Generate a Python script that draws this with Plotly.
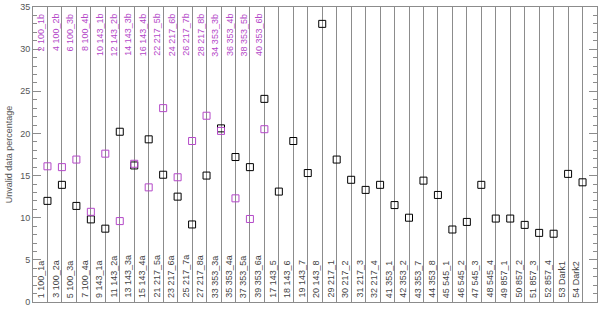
import plotly.graph_objects as go

bottom_labels = ["1 100_1a", "3 100_2a", "5 100_3a", "7 100_4a", "9 143_1a", "11 143_2a",
                 "13 143_3a", "15 143_4a", "21 217_5a", "23 217_6a", "25 217_7a", "27 217_8a",
                 "33 353_3a", "35 353_4a", "37 353_5a", "39 353_6a", "17 143_5", "18 143_6",
                 "19 143_7", "20 143_8", "29 217_1", "30 217_2", "31 217_3", "32 217_4",
                 "41 353_1", "42 353_2", "43 353_7", "44 353_8", "45 545_1", "46 545_2",
                 "47 545_3", "48 545_4", "49 857_1", "50 857_2", "51 857_3", "52 857_4",
                 "53 Dark1", "54 Dark2"]
black_values = [12.0, 13.9, 11.4, 9.8, 8.7, 20.2, 16.2, 19.3, 15.1, 12.5, 9.2, 15.0,
                20.6, 17.2, 16.0, 24.1, 13.1, 19.1, 15.3, 33.0, 16.9, 14.5, 13.3, 13.9,
                11.5, 10.0, 14.4, 12.7, 8.6, 9.5, 13.9, 9.9, 9.9, 9.15, 8.2, 8.1, 15.2, 14.2]

top_labels = ["2 100_1b", "4 100_2b", "6 100_3b", "8 100_4b", "10 143_1b", "12 143_2b",
              "14 143_3b", "16 143_4b", "22 217_5b", "24 217_6b", "26 217_7b", "28 217_8b",
              "34 353_3b", "36 353_4b", "38 353_5b", "40 353_6b"]
magenta_values = [16.1, 16.0, 16.9, 10.7, 17.6, 9.6, 16.4, 13.6, 23.0, 14.8, 19.1, 22.1,
                  20.3, 12.3, 9.85, 20.5]

y_title = "Unvalid data percentage"

MAG = "#b448c8"
GRAY = "#8c8c8c"
FONT = "Liberation Sans"

xb = list(range(len(bottom_labels)))
xm = list(range(len(top_labels)))

fig = go.Figure()
fig.add_trace(go.Scatter(x=xb, y=black_values, mode="markers",
                         marker=dict(symbol="square-open", size=7, color="black",
                                     line=dict(width=1, color="black")),
                         showlegend=False))
fig.add_trace(go.Scatter(x=xm, y=magenta_values, mode="markers",
                         marker=dict(symbol="square-open", size=7, color=MAG,
                                     line=dict(width=1, color=MAG)),
                         showlegend=False))

for i, t in enumerate(bottom_labels):
    fig.add_annotation(x=i - 0.42, y=0.25, text=t, textangle=-90, showarrow=False,
                       xanchor="center", yanchor="bottom",
                       font=dict(family=FONT, size=9, color="#444444"))
for i, t in enumerate(top_labels):
    fig.add_annotation(x=i - 0.42, y=34.5, text=t, textangle=-90, showarrow=False,
                       xanchor="center", yanchor="top",
                       font=dict(family=FONT, size=9, color=MAG))

fig.update_layout(
    width=600, height=309,
    margin=dict(l=33, r=2, t=4, b=4),
    plot_bgcolor="white", paper_bgcolor="white",
    font=dict(family=FONT, size=9, color="#555555"),
    xaxis=dict(range=[-1, 38], tickvals=xb, showticklabels=False, ticks="",
               showgrid=True, gridcolor=GRAY, gridwidth=1, zeroline=False,
               showline=True, linecolor=GRAY, mirror=True),
    yaxis=dict(range=[0, 35], tickvals=[0, 5, 10, 15, 20, 25, 30, 35],
               ticks="inside", ticklen=8, tickcolor=GRAY, ticklabeloverflow="allow",
               minor=dict(dtick=1, ticks="inside", ticklen=4, tickcolor=GRAY, showgrid=False),
               showgrid=False, zeroline=False, showline=True, linecolor=GRAY, mirror="ticks",
               tickfont=dict(family=FONT, size=9, color="#555555"),
               title=dict(text=y_title, font=dict(family=FONT, size=9, color="#555555"),
                          standoff=6)),
)

fig.write_html("out.html", config={"displayModeBar": False},
               post_script="document.body.style.margin='0px';")
